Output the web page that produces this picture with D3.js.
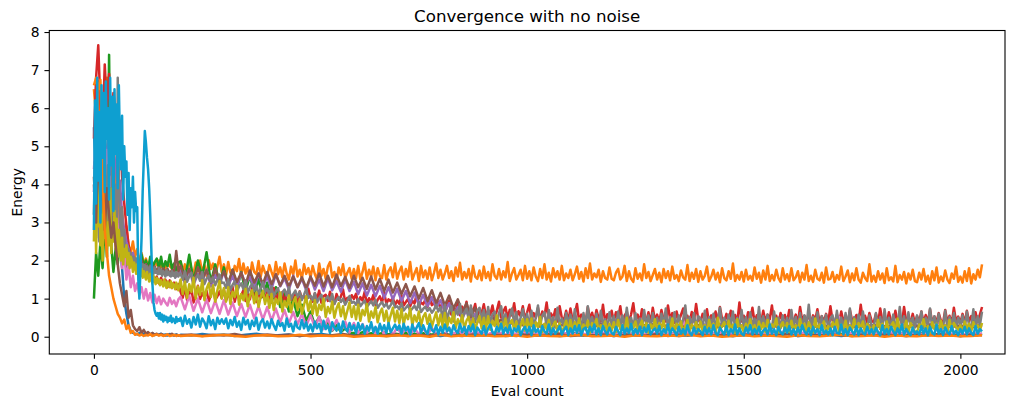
<!DOCTYPE html>
<html>
<head>
<meta charset="utf-8">
<script src="https://cdn.jsdelivr.net/npm/d3@7"></script>
<style>
    body { margin: 0; background: #fff; }
    text { font-family: "DejaVu Sans", sans-serif; fill: #000; }
</style>
</head>
<body>
<div id="vis"></div>
<script>
// All energies below are in hundredths (186 = 1.86).
// Each run: an early part from eval 0, then a late part from eval 200, each with its own eval step.
var lateStart = 200;

var xTicks = [0, 500, 1000, 1500, 2000];
var yTicks = [0, 1, 2, 3, 4, 5, 6, 7, 8];

// tab:blue
var blueEarlyStep = 5, blueLateStep = 25;
var blueEarly = [550,380,620,450,280,580,350,600,400,520, 320,460,240,180,100,60,30,15,10,8,
    6,10,5,8,4,7,5,9,4,6, 5,8,4,6,3,7,5,4,6,3];
var blueLate = [5,3,7,4,6,2,5,8,3,4,6,2,5,7,3,4,6,3,5,2, 4,7,3,5,2,6,4,3,5,8,2,4,6,3,5,2,4,7,3,5,
    2,6,4,3,5,7,2,4,6,3,5,2,4,6,3,5,8,2,4,3, 6,2,5,4,7,3,5,2,4,6,3,5,2,4,6];

// tab:orange, the run that stays high
var orangeEarlyStep = 5, orangeLateStep = 5;
var orangeEarly = [650,580,670,490,620,550,680,460,590,510, 420,360,300,330,260,290,240,220,250,210,
    230,195,220,190,205,185,200,180,195,188, 200,182,190,178,195,185,180,190,176,188];
var orangeLate = [
    198,170,190,162,205,176,166,195,172,200,168,188,160,201,178,192,164,185,210,170,
    190,162,196,168,158,186,172,204,160,192,166,182,155,195,170,164,199,158,186,168,
    160,188,170,154,196,164,182,156,192,166,150,184,162,200,158,176,152,190,165,180,
    156,186,164,150,192,160,178,152,184,196,156,170,148,182,162,190,154,168,180,152,
    178,154,186,150,170,194,152,176,158,184,148,180,160,154,188,150,172,182,156,192,
    152,172,184,150,178,158,196,150,166,180,146,186,156,174,152,182,148,168,192,154,
    176,150,166,186,154,172,146,182,158,194,150,170,154,178,145,186,158,152,174,148,
    184,154,170,148,190,160,152,178,150,172,156,196,146,166,180,150,162,176,148,186,
    152,172,148,182,158,146,178,154,190,150,168,145,180,156,172,150,186,148,166,154,
    176,148,164,184,152,170,145,180,154,192,150,166,156,176,144,172,154,150,182,152,
    148,168,178,150,158,186,146,172,152,144,180,152,166,148,190,154,170,146,162,178,
    150,168,143,178,154,172,148,184,152,162,146,174,156,150,188,146,168,152,178,144,
    172,150,160,184,146,158,176,150,168,143,180,154,148,172,152,192,146,162,150,170,
    145,176,150,160,147,182,152,168,142,174,150,186,146,162,148,176,154,144,180,150,
    164,146,180,148,156,172,143,168,150,188,146,160,144,176,152,148,168,142,182,150,
    152,170,144,162,150,184,146,158,174,143,166,148,180,150,142,168,154,146,190,145,
    160,144,172,150,166,141,180,148,156,145,186,143,162,150,170,140,166,150,176,146,
    143,168,150,178,145,160,139,172,148,182,142,158,146,174,150,141,166,152,184,144,
    158,142,172,146,180,140,164,150,176,156,190];

// tab:green
var greenEarlyStep = 5, greenLateStep = 10;
var greenEarly = [100,220,160,250,180,300,210,740,240,170, 230,190,260,200,240,180,220,190,210,185,
    205,180,215,185,200,178,210,182,195,205, 180,210,175,198,185,215,178,192,170,195];
var greenLate = [198,150,215,145,200,158,222,142,190,136, 182,130,176,126,170,118,162,110,152,104,
    142,90,130,78,114,66,98,54,84,42, 66,30,52,22,40,16,30,12,22,10,
    10,7,12,6,9,5,8,11,6,9, 7,5,10,6,8,4,9,7,5,8, 6,9,4,7,10,5,8,6,4,9, 7,5,8,11,6,4,9,7,5,8,
    4,8,6,10,5,7,4,9,6,8, 5,9,7,4,8,6,10,5,7,4, 8,6,9,5,7,10,4,8,6,5, 9,4,7,6,10,5,8,4,7,9,
    5,8,6,9,4,7,10,6,5,8, 7,4,9,6,8,5,10,7,4,6, 8,5,7,10,6,4,9,7,5,8, 4,7,9,5,8,6,4,10,7,5,
    9,6,4,8,7,5,10,6,8,4, 6,9,7,5,8,4,7,10,5,8, 7,5,9,6,4,8];

// tab:red
var redEarlyStep = 5, redLateStep = 5;
var redEarly = [520,680,765,610,540,715,600,690,550,640, 580,490,560,420,350,290,240,210,180,190,
    170,185,160,175,155,170,150,162,145,158, 140,155,135,150,130,148,128,142,125,138];
var redLate = [
    118,102,130,96,112,125,90,108,134,99,115,104,121,93,110,128,97,106,119,101,
    124,95,110,103,131,92,116,100,108,122,94,113,98,127,105,91,118,102,111,96,
    120,99,107,128,93,112,101,117,90,109,123,97,104,114,88,119,100,108,95,126,
    103,92,114,98,121,89,106,110,94,118,100,86,112,97,105,124,91,102,96,109,
    99,113,88,104,95,118,86,101,92,110,84,97,106,90,115,87,98,93,102,83,
    95,86,108,82,91,99,80,94,87,112,79,90,85,97,78,103,83,89,76,92,
    74,88,60,81,95,58,77,66,90,56,79,62,92,54,75,64,86,52,73,60,
    85,52,70,58,82,50,68,92,50,66,78,48,71,56,88,48,67,54,80,46,
    64,84,44,62,50,76,42,66,54,90,42,61,48,72,40,80,50,44,68,40,
    74,42,60,86,40,58,52,38,78,46,63,38,70,48,40,84,38,59,44,68,
    40,64,48,80,38,55,66,38,59,88,42,58,38,72,46,40,64,36,76,44,
    58,38,70,44,40,82,46,62,36,66,42,57,74,38,55,36,65,40,86,44,
    38,60,46,72,36,56,42,66,38,78,46,40,60,36,68,44,57,38,90,40,
    55,36,64,42,76,38,56,44,36,68,40,58,46,82,38,55,35,62,42,57,
    38,70,44,40,58,36,78,42,55,38,64,35,56,44,72,36,54,40,60,36,
    80,42,38,58,36,66,40,54,35,70,44,38,57,36,84,40,55,36,62,42,
    38,60,35,74,40,54,36,64,42,36,68,38,56,34,78,40,53,36,60,35,
    54,38,66,36,57,38,72,35,53,38,62,42,36,70,38,55,34,76,40,53,
    36,60,35,68,40,54,36,64,38,58,78];

// tab:purple
var purpleEarlyStep = 5, purpleLateStep = 10;
var purpleEarly = [380,520,460,550,440,500,480,530,420,490, 450,380,410,320,280,250,230,210,220,195,
    200,185,195,180,190,175,185,172,180,170, 178,166,175,162,172,160,170,164,158,168];
var purpleLate = [172,140,178,136,165,145,176,132,162,140, 170,134,160,130,168,138,158,128,166,132,
    158,126,164,132,154,124,160,130,152,122, 156,124,150,120,154,122,146,118,150,120,
    144,112,140,108,136,106,134,102,130,98, 126,94,120,88,116,84,110,80,104,76,
    96,66,88,58,78,50,68,42,60,38, 46,38,42,35,40,33,37,31,36,30,
    34,28,36,27,32,29,35,26,31,28, 33,27,30,36,26,31,28,34,25,30, 29,33,26,31,28,35,25,30,27,32,
    26,30,28,34,25,29,27,33,24,30, 28,32,25,30,27,35,26,29,24,31, 27,33,25,29,28,32,24,30,26,34,
    25,29,27,33,24,31,28,26,30,25, 32,26,29,24,31,27,34,25,28,30, 26,31,24,29,27,33,25,30,28,26,
    30,25,28,32,24,29,27,31,26,28, 25,30,27,32,26,29];

// tab:brown, slow decay
var brownEarlyStep = 5, brownLateStep = 10;
var brownEarly = [400,320,480,290,360,440,300,380,270,340, 310,260,290,240,220,230,200,210,190,205,
    195,185,200,180,190,178,188,175,185,172, 182,170,180,168,178,166,175,170,225,172];
var brownLate = [186,152,178,146,182,150,175,142,180,146, 172,140,176,144,168,136,174,142,166,138,
    170,138,164,134,160,132,158,130,156,128, 158,134,166,132,160,130,163,133,157,128,
    160,130,155,126,158,124,152,120,150,116, 142,112,138,106,132,100,128,94,122,88,
    115,82,108,74,98,64,88,52,76,44, 56,46,50,40,44,36,40,33,38,31,
    34,29,36,27,32,30,35,26,31,28, 33,26,30,35,27,31,29,34,25,30, 28,32,26,31,29,35,24,30,27,33,
    26,31,28,33,25,30,27,34,24,29, 31,26,29,34,25,30,28,32,24,30, 27,32,25,30,28,35,26,29,24,31,
    28,25,31,27,33,24,30,26,32,28, 25,30,27,34,26,29,24,31,28,26, 32,27,30,25,29,33,26,28,24,31,
    27,30,25,32,28,26,31,24,29,27, 30,26,29,25,31,28];

// tab:pink
var pinkEarlyStep = 5, pinkLateStep = 10;
var pinkEarly = [440,520,400,530,460,380,490,350,420,330, 380,300,260,180,220,150,190,130,160,120,
    140,110,130,100,125,95,115,90,110,88, 105,85,100,90,82,102,86,95,80,98];
var pinkLate = [105,72,108,68,100,64,98,62,95,60, 96,58,90,54,86,52,84,48,80,45,
    78,42,74,38,70,35,65,32,60,28, 56,25,52,20,48,17,44,14,40,11,
    36,9,33,8,31,6,29,5,27,4, 25,5,24,4,23,6,22,5,24,4,
    21,4,23,6,16,8,18,6,14,9, 9,6,12,8,10,5,11,7,9,13, 8,11,6,10,7,13,9,5,12,8,
    10,7,14,8,6,11,9,7,12,8, 6,10,8,13,7,9,11,6,10,8, 12,7,9,6,11,8,45,7,10,9,
    7,11,8,10,6,13,9,7,11,8, 10,6,12,8,9,7,11,9,6,13, 8,10,7,12,9,6,11,8,10,7,
    11,8,52,7,10,9,6,12,8,10, 7,12,9,6,11,8,10,7,13,9, 10,7,11,9,6,48,8,10,7,11,
    9,6,12,8,10,7];

// tab:gray
var grayEarlyStep = 2.5, grayLateStep = 5;
var grayEarly = [320,460,260,500,340,250,480,300,420,270, 510,330,280,450,300,390,260,470,320,400,
    350,280,680,420,300,260,340,230,280,210, 240,200,230,190,220,200,185,210,190,205,
    185,200,180,195,175,190,172,188,170,185, 178,168,185,170,175,165,182,168,172,164,
    180,165,175,160,172,168,158,175,162,170, 165,158,172,160,168,155,170,162,158,166];
var grayLate = [
    165,150,172,144,158,168,140,155,162,147,170,138,152,160,143,156,135,150,163,141,
    142,128,150,122,136,145,118,132,140,125,148,115,130,138,120,134,112,127,143,118,
    126,110,132,105,120,128,100,116,124,108,130,98,112,121,104,118,96,110,125,102,
    108,96,115,90,102,110,88,99,106,93,112,86,97,104,91,100,84,95,107,89,
    92,84,99,80,88,95,78,86,93,82,97,76,85,91,79,87,74,83,94,77,
    80,72,88,69,76,83,67,74,81,70,90,65,73,79,68,75,63,71,84,66,
    78,48,84,44,66,80,40,70,58,86,42,64,74,46,82,52,38,68,76,44,
    70,36,78,34,58,66,32,62,80,38,60,30,54,74,34,64,28,50,72,32,
    60,28,68,26,50,82,30,56,64,26,70,32,52,24,76,30,48,28,62,34,
    58,26,72,30,48,24,62,28,80,30,52,24,60,26,68,32,46,22,64,30,
    54,24,66,28,56,22,76,30,50,24,62,28,48,22,70,30,56,22,62,28,
    50,22,60,30,74,24,52,28,64,22,56,30,44,82,24,52,28,62,22,54,
    48,22,68,26,52,24,60,28,44,76,26,50,22,58,28,66,22,50,26,70,
    26,52,22,64,28,48,22,78,26,54,24,58,30,22,66,28,50,22,56,26,
    50,22,70,28,52,24,62,22,56,30,84,24,52,26,64,22,54,28,58,22,
    48,56,24,68,26,50,22,62,28,74,22,52,26,58,22,66,30,24,56,28,
    22,62,26,52,22,72,28,50,24,58,30,22,78,26,54,22,64,28,50,24,
    56,26,66,22,50,28,74,24,54,22,60,30,24,68,22,52,28,62,24,50,
    28,56,22,66,30,26,72,24,54,30,66];

// tab:olive
var oliveEarlyStep = 2.5, oliveLateStep = 5;
var oliveEarly = [250,410,220,350,290,430,240,320,200,380, 260,340,210,300,240,390,220,280,250,330,
    230,310,210,280,240,200,260,190,230,210, 240,190,220,180,210,200,170,195,185,165,
    190,170,185,160,178,155,172,162,150,170, 158,145,165,150,140,160,148,138,155,142,
    150,135,148,140,132,150,138,128,145,135, 130,145,128,140,135,125,142,130,122,138];
var oliveLate = [
    150,112,145,102,138,118,155,100,132,110,148,96,126,140,104,135,92,122,146,100,
    128,92,130,86,118,104,134,84,112,96,126,80,108,122,88,116,78,104,120,86,
    110,76,112,70,100,86,116,66,94,78,108,64,90,104,70,98,60,84,106,68,
    94,60,96,56,84,70,100,52,78,62,92,50,74,88,54,80,46,68,90,52,
    80,46,84,42,70,56,86,40,66,50,78,38,62,74,42,68,36,56,76,40,
    68,36,72,32,60,46,74,30,56,40,66,28,52,62,34,58,26,46,64,30,
    58,26,62,24,50,36,64,22,46,30,56,20,42,52,24,48,18,38,54,22,
    50,20,54,18,42,28,56,16,38,24,48,14,34,44,18,40,12,30,46,16,
    46,16,48,14,38,24,52,12,34,20,44,12,30,40,14,36,10,26,42,14,
    44,14,38,22,48,12,32,18,42,10,36,26,46,14,30,20,40,12,34,16,
    38,12,44,20,30,14,50,10,34,24,40,12,28,42,16,36,10,32,20,46,
    14,36,22,42,10,30,18,48,12,34,24,40,10,28,44,14,32,20,38,12,
    40,16,30,12,44,22,34,10,50,18,28,38,12,42,20,32,10,46,16,30,
    12,34,22,46,14,30,10,40,20,36,12,44,16,32,26,48,10,28,38,14,
    36,10,42,18,30,14,46,20,34,12,38,24,10,48,16,32,22,40,12,28,
    16,38,24,44,10,32,20,42,12,30,18,46,14,36,22,40,10,34,26,12,
    30,14,44,20,34,10,40,16,28,38,12,48,18,30,22,42,10,36,24,14,
    12,32,24,46,16,28,10,38,20,34,14,42,22,30,10,44,16,36,26,18,
    30,12,40,20,34,14,38,22,30,16,36];

// second tab:brown run, fast decay
var brown2EarlyStep = 5, brown2LateStep = 25;
var brown2Early = [420,300,500,360,450,280,390,320,260,300, 240,190,140,110,80,120,50,70,30,20,
    15,25,10,18,8,12,6,10,5,8, 4,7,5,3,6,4,8,3,5,4];
var brown2Late = [4,6,2,5,3,7,2,4,6,3,5,2,6,3,4,7,2,5,3,4, 6,2,5,3,7,4,2,6,3,5,4,2,6,3,5,7,2,4,3,6,
    2,5,4,3,7,2,5,4,6,3,4,2,6,5,3,4,7,2,5,3, 6,4,2,5,3,6,4,2,5,3,7,4,2,5,4];

// second tab:orange run, fast decay
var orange2EarlyStep = 5, orange2LateStep = 25;
var orange2Early = [660,680,650,675,420,280,220,160,130,100, 80,60,50,35,45,20,30,10,15,5,
    8,3,6,2,5,3,7,2,4,6, 3,5,2,4,6,2,3,5,2,4];
var orange2Late = [2,4,1,3,5,2,0,3,4,1,2,5,1,3,2,4,0,2,3,1, 4,2,3,0,5,1,3,2,4,1,2,3,0,4,2,1,3,5,1,2,
    3,0,4,2,1,3,2,5,1,3,0,2,4,1,3,2,0,4,2,1, 3,5,1,2,4,0,3,2,1,4,2,3,1,2,4];

// tab:cyan, drawn last so it sits on top
var cyanEarlyStep = 2.5, cyanLateStep = 5;
var cyanEarly = [280,620,350,680,410,590,300,660,470,640, 380,670,520,600,360,680,450,630,330,650,
    480,610,390,660,510,440,580,360,500,420, 460,320,430,280,390,340,420,300,380,330,
    340,150,100,180,260,380,460,540,510,470, 440,390,320,230,140,90,70,60,55,62,
    48,62,45,58,40,55,44,52,38,50, 42,55,38,48,44,36,52,40,46,42];
var cyanLate = [
    50,28,55,34,46,24,52,32,58,26,48,38,22,54,30,44,20,50,34,46,
    34,48,22,44,30,52,26,40,18,50,32,44,20,42,28,50,18,38,46,24,
    40,22,46,30,18,42,28,36,16,48,26,34,14,40,24,20,44,22,38,16,
    32,14,40,22,34,12,42,20,30,10,38,24,16,34,10,40,22,14,36,18,
    30,10,36,18,32,8,28,16,38,12,26,8,34,16,30,10,36,12,22,32,
    18,30,8,34,16,26,6,32,14,24,36,10,30,16,8,34,18,12,30,6,
    26,10,32,14,24,6,30,16,10,34,12,26,6,28,14,32,4,24,16,8,
    28,6,22,32,12,6,26,14,34,8,24,10,30,4,22,14,28,4,18,26,
    10,26,4,30,12,20,4,28,14,8,32,6,22,8,16,28,6,18,26,4,
    22,8,28,10,30,4,20,24,6,26,12,32,6,22,4,28,14,6,24,10,
    6,26,14,4,30,8,22,10,34,6,20,8,26,4,24,12,30,6,16,22,
    8,28,4,20,10,32,6,22,14,4,26,8,20,6,30,10,4,24,8,20,
    14,4,26,8,22,6,30,10,4,24,14,6,28,4,20,10,32,6,22,8,
    4,24,10,30,6,20,8,26,4,16,22,6,32,8,20,4,26,12,6,24,
    10,28,6,20,4,24,8,30,14,6,22,4,26,10,20,4,30,8,16,6,
    22,4,26,10,8,32,6,20,4,24,14,6,28,4,22,10,6,26,8,20,
    6,24,12,4,30,8,20,6,26,14,4,22,8,32,6,20,10,4,24,8,
    14,6,28,8,22,4,26,10,6,32,8,20,4,24,12,6,28,8,16,4,
    20,8,26,6,22,10,4,28,8,20,14];

(function() {
    var width = 1019;
    var height = 403;
    var left = 49.3, right = 1005, top = 30.5, bottom = 354;

    var svg = d3.select("#vis")
        .append("svg")
        .attr("width", width)
        .attr("height", height);

    // Draw order: later entries end up on top
    var series = [
        {color: "#1f77b4", early: blueEarly, es: blueEarlyStep, late: blueLate, ls: blueLateStep},
        {color: "#ff7f0e", early: orangeEarly, es: orangeEarlyStep, late: orangeLate, ls: orangeLateStep},
        {color: "#1f991f", early: greenEarly, es: greenEarlyStep, late: greenLate, ls: greenLateStep},
        {color: "#d62728", early: redEarly, es: redEarlyStep, late: redLate, ls: redLateStep},
        {color: "#9467bd", early: purpleEarly, es: purpleEarlyStep, late: purpleLate, ls: purpleLateStep},
        {color: "#8c564b", early: brownEarly, es: brownEarlyStep, late: brownLate, ls: brownLateStep},
        {color: "#e377c2", early: pinkEarly, es: pinkEarlyStep, late: pinkLate, ls: pinkLateStep},
        {color: "#7f7f7f", early: grayEarly, es: grayEarlyStep, late: grayLate, ls: grayLateStep},
        {color: "#c0b414", early: oliveEarly, es: oliveEarlyStep, late: oliveLate, ls: oliveLateStep},
        {color: "#8c564b", early: brown2Early, es: brown2EarlyStep, late: brown2Late, ls: brown2LateStep},
        {color: "#ff7f0e", early: orange2Early, es: orange2EarlyStep, late: orange2Late, ls: orange2LateStep},
        {color: "#0e9fd0", early: cyanEarly, es: cyanEarlyStep, late: cyanLate, ls: cyanLateStep}
    ];

    series.forEach(function(s) {
        var pts = s.early.map(function(v, i) { return [i * s.es, v / 100]; });
        s.late.forEach(function(v, i) { pts.push([lateStart + i * s.ls, v / 100]); });
        s.points = pts;
    });

    var x = d3.scaleLinear().domain([-103, 2103]).range([left, right]);
    var y = d3.scaleLinear().domain([-0.454, 8.04]).range([bottom, top]);

    var line = d3.line()
        .x(function(d) { return x(d[0]); })
        .y(function(d) { return y(d[1]); });

    svg.append("g")
        .attr("class", "lines")
        .selectAll("path")
        .data(series)
        .enter().append("path")
        .attr("d", function(d) { return line(d.points); })
        .attr("fill", "none")
        .attr("stroke", function(d) { return d.color; })
        .attr("stroke-width", 2.5)
        .attr("stroke-linejoin", "round");

    // Axes
    var xAxis = svg.append("g")
        .attr("transform", "translate(0," + bottom + ")")
        .call(d3.axisBottom(x).tickValues(xTicks).tickSize(4.86).tickPadding(6.5).tickFormat(d3.format("d")));
    var yAxis = svg.append("g")
        .attr("transform", "translate(" + left + ",0)")
        .call(d3.axisLeft(y).tickValues(yTicks).tickSize(4.86).tickPadding(4.86).tickFormat(d3.format("d")));

    [xAxis, yAxis].forEach(function(g) {
        g.select(".domain").remove();
        g.selectAll("line").attr("stroke", "#000").attr("stroke-width", 1.1);
        g.selectAll("text")
            .attr("fill", "#000")
            .style("font-family", "'DejaVu Sans', sans-serif")
            .style("font-size", "13.89px");
    });

    // Frame
    svg.append("rect")
        .attr("x", left)
        .attr("y", top)
        .attr("width", right - left)
        .attr("height", bottom - top)
        .attr("fill", "none")
        .attr("stroke", "#000")
        .attr("stroke-width", 1.1);

    // Labels
    svg.append("text")
        .attr("x", (left + right) / 2)
        .attr("y", 22)
        .attr("text-anchor", "middle")
        .style("font-size", "16.67px")
        .text("Convergence with no noise");

    svg.append("text")
        .attr("x", (left + right) / 2)
        .attr("y", 396)
        .attr("text-anchor", "middle")
        .style("font-size", "13.89px")
        .text("Eval count");

    svg.append("text")
        .attr("transform", "translate(22," + (top + bottom) / 2 + ") rotate(-90)")
        .attr("text-anchor", "middle")
        .style("font-size", "13.89px")
        .text("Energy");
})();
</script>
</body>
</html>
